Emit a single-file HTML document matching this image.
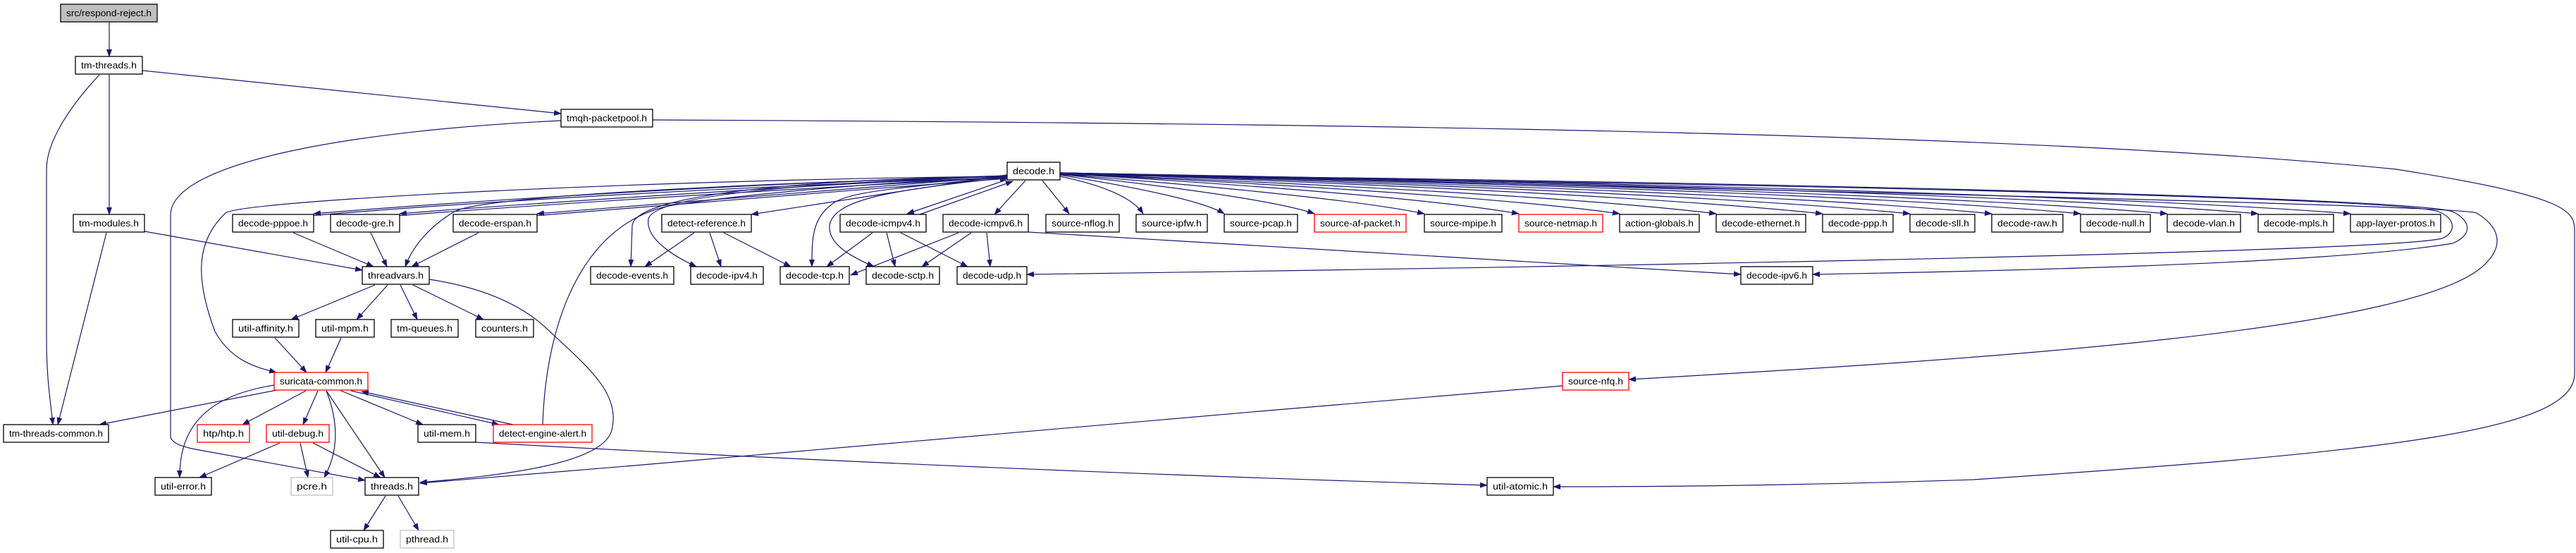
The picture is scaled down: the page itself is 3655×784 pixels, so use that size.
<!DOCTYPE html>
<html><head><meta charset="utf-8"><style>
html,body{margin:0;padding:0;background:#fff;}
svg{display:block;}
text{font-family:"Liberation Sans",Arial,sans-serif;font-size:13px;fill:#000;}
</style></head><body>
<svg width="3655" height="784" viewBox="0 0 3655 784" xmlns="http://www.w3.org/2000/svg">
<defs>
<marker id="a" markerWidth="11" markerHeight="8" refX="10" refY="4" orient="auto" markerUnits="userSpaceOnUse">
<path d="M0,0 L11,4 L0,8 Z" fill="#191970"/>
</marker>
</defs>
<g fill="none" stroke="#191970" stroke-width="1.2" marker-end="url(#a)">
<path d="M155,31 L155,80"/>
<path d="M202,100 L796,161"/>
<path d="M155,105 L155,304"/>
<path d="M141,106 C100,150 66,200 66,240 L66,480 C66,540 72,570 75,602"/>
<path d="M151,330 L82,602"/>
<path d="M205,328 L514,383"/>
<path d="M796,171 C500,185 242,230 242,305 L242,620 C245,628 255,632 272,636 L518,681"/>
<path d="M416,330 L530,378"/>
<path d="M526,330 L549,378"/>
<path d="M679,330 L584,378"/>
<path d="M1429,250 C1000,262 680,280 645,300 C610,320 585,350 575,378"/>
<path d="M532,404 L413,453"/>
<path d="M550,404 L506,453"/>
<path d="M568,404 L592,453"/>
<path d="M586,404 L686,453"/>
<path d="M609,396 C700,410 750,440 780,470 C840,525 880,560 868,610 C855,660 700,675 596,684"/>
<path d="M390,479 L435,528"/>
<path d="M484,479 L462,528"/>
<path d="M1429,250 C900,255 340,285 320,302 C280,340 275,390 305,470 C330,515 370,522 392,528"/>
<path d="M393,553 L141,602"/>
<path d="M389,546 C300,560 254,600 255,677"/>
<path d="M434,554 L344,602"/>
<path d="M451,554 L430,602"/>
<path d="M463,554 C485,610 475,650 460,677"/>
<path d="M463,554 L546,677"/>
<path d="M484,554 L600,602"/>
<path d="M498,554 L708,602"/>
<path d="M728,602 L513,555"/>
<path d="M770,602 C775,450 830,310 960,290 C1100,270 1300,255 1429,252"/>
<path d="M397,628 L283,677"/>
<path d="M426,628 L437,677"/>
<path d="M444,628 L540,677"/>
<path d="M675,627 C1000,645 1500,670 2110,688"/>
<path d="M2217,547 L1800,582 L900,660 L596,685"/>
<path d="M547,703 L516,752"/>
<path d="M565,703 L594,752"/>
<path d="M1504,245 C2500,270 3480,290 3514,302 C3560,330 3540,360 3530,370 C3450,470 2800,510 2311,538"/>
<path d="M926,170 C2000,175 2900,190 3400,240 C3653,280 3653,300 3653,330 L3653,530 C3653,610 3400,640 2800,680 C2500,690 2300,690 2204,690"/>
<path d="M1504,248 C2500,260 3400,280 3460,300 C3485,310 3485,330 3465,338 C3400,355 2500,375 1457,389"/>
<path d="M1504,247 C2500,258 3420,280 3480,300 C3510,315 3505,335 3480,345 C3300,375 2800,385 2572,389"/>
<path d="M1459,329 L2470,389"/>
<path d="M1428,255 L1287,303"/>
<path d="M1305,304 L1437,257"/>
<path d="M1455,256 L1411,304"/>
<path d="M1479,256 L1517,303"/>
<path d="M1428,248 L1066,304"/>
<path d="M985,330 L915,378"/>
<path d="M1007,330 L1023,378"/>
<path d="M1027,330 L1122,378"/>
<path d="M1238,330 L1173,378"/>
<path d="M1258,330 L1270,378"/>
<path d="M1278,330 L1373,378"/>
<path d="M1360,330 L1207,390"/>
<path d="M1378,330 L1308,378"/>
<path d="M1400,330 L1405,378"/>
<path d="M1429,250 C1300,265 1200,270 1180,290 C1152,310 1152,340 1152,378"/>
<path d="M1429,252 C1250,270 1190,285 1178,315 C1170,345 1210,365 1240,378"/>
<path d="M1429,250 C1100,260 930,280 920,310 C915,340 960,365 988,378"/>
<path d="M1429,250 C1100,255 900,280 897,320 L895,378"/>
<path d="M1429,249 C1000,262 600,290 445,303"/>
<path d="M440,306 C600,292 1000,265 1429,252"/>
<path d="M1429,249 C1100,265 700,292 567,303"/>
<path d="M562,306 C700,295 1100,268 1429,252"/>
<path d="M1429,250 C1200,268 900,292 762,303"/>
<path d="M757,306 C900,295 1200,270 1429,253"/>
<path d="M1504,250 Q1600,270 1622,303"/>
<path d="M1504,248 Q1700,280 1737,303"/>
<path d="M1504,247 Q1800,280 1865,303"/>
<path d="M1504,247 Q1900,278 2021,303"/>
<path d="M1504,246 Q2000,276 2155,303"/>
<path d="M1504,246 Q2100,275 2298,303"/>
<path d="M1504,246 Q2200,274 2435,303"/>
<path d="M1504,245 Q2300,273 2586,303"/>
<path d="M1504,245 Q2400,272 2710,303"/>
<path d="M1504,245 Q2500,271 2826,303"/>
<path d="M1504,245 Q2600,270 2952,303"/>
<path d="M1504,245 Q2700,270 3075,303"/>
<path d="M1504,245 Q2800,269 3204,303"/>
<path d="M1504,245 Q2900,269 3335,303"/>
</g>
<g stroke-width="1.3">
<g fill="#fff" stroke="#000">
<rect x="86" y="6" width="137" height="25" fill="#bfbfbf"/>
<rect x="107" y="80" width="95" height="25"/>
<rect x="796" y="155" width="130" height="25"/>
<rect x="1429" y="230" width="75" height="25"/>
<rect x="104" y="304" width="101" height="25"/>
<rect x="330" y="304" width="115" height="25"/>
<rect x="469" y="304" width="98" height="25"/>
<rect x="643" y="304" width="119" height="25"/>
<rect x="939" y="304" width="127" height="25"/>
<rect x="1192" y="304" width="122" height="25"/>
<rect x="1338" y="304" width="121" height="25"/>
<rect x="1484" y="304" width="104" height="25"/>
<rect x="1612" y="304" width="101" height="25"/>
<rect x="1737" y="304" width="104" height="25"/>
<rect x="2021" y="304" width="110" height="25"/>
<rect x="2298" y="304" width="113" height="25"/>
<rect x="2435" y="304" width="127" height="25"/>
<rect x="2586" y="304" width="100" height="25"/>
<rect x="2710" y="304" width="92" height="25"/>
<rect x="2826" y="304" width="101" height="25"/>
<rect x="2952" y="304" width="99" height="25"/>
<rect x="3075" y="304" width="104" height="25"/>
<rect x="3204" y="304" width="107" height="25"/>
<rect x="3335" y="304" width="128" height="25"/>
<rect x="514" y="378" width="95" height="25"/>
<rect x="838" y="378" width="118" height="25"/>
<rect x="980" y="378" width="103" height="25"/>
<rect x="1107" y="378" width="98" height="25"/>
<rect x="1229" y="378" width="104" height="25"/>
<rect x="1358" y="378" width="99" height="25"/>
<rect x="2470" y="378" width="102" height="25"/>
<rect x="330" y="453" width="94" height="25"/>
<rect x="448" y="453" width="83" height="25"/>
<rect x="555" y="453" width="95" height="25"/>
<rect x="675" y="453" width="82" height="25"/>
<rect x="5" y="602" width="149" height="25"/>
<rect x="593" y="602" width="82" height="25"/>
<rect x="220" y="677" width="80" height="25"/>
<rect x="518" y="677" width="76" height="25"/>
<rect x="2110" y="677" width="94" height="25"/>
<rect x="469" y="752" width="75" height="25"/>
</g>
<g fill="#fff" stroke="#ff0000">
<rect x="1865" y="304" width="130" height="25"/>
<rect x="2155" y="304" width="119" height="25"/>
<rect x="389" y="528" width="133" height="25"/>
<rect x="2217" y="528" width="94" height="25"/>
<rect x="280" y="602" width="74" height="25"/>
<rect x="378" y="602" width="89" height="25"/>
<rect x="700" y="602" width="140" height="25"/>
</g>
<g fill="#fff" stroke="#bfbfbf">
<rect x="413" y="677" width="59" height="25"/>
<rect x="568" y="752" width="76" height="25"/>
</g>
</g>
<g text-anchor="middle">
<text x="154.5" y="23" textLength="121" lengthAdjust="spacingAndGlyphs">src/respond-reject.h</text>
<text x="154.5" y="97" textLength="79" lengthAdjust="spacingAndGlyphs">tm-threads.h</text>
<text x="861" y="172" textLength="114" lengthAdjust="spacingAndGlyphs">tmqh-packetpool.h</text>
<text x="1466.5" y="247" textLength="59" lengthAdjust="spacingAndGlyphs">decode.h</text>
<text x="154.5" y="321" textLength="85" lengthAdjust="spacingAndGlyphs">tm-modules.h</text>
<text x="387.5" y="321" textLength="99" lengthAdjust="spacingAndGlyphs">decode-pppoe.h</text>
<text x="518" y="321" textLength="82" lengthAdjust="spacingAndGlyphs">decode-gre.h</text>
<text x="702.5" y="321" textLength="103" lengthAdjust="spacingAndGlyphs">decode-erspan.h</text>
<text x="1002.5" y="321" textLength="111" lengthAdjust="spacingAndGlyphs">detect-reference.h</text>
<text x="1253" y="321" textLength="106" lengthAdjust="spacingAndGlyphs">decode-icmpv4.h</text>
<text x="1398.5" y="321" textLength="105" lengthAdjust="spacingAndGlyphs">decode-icmpv6.h</text>
<text x="1536" y="321" textLength="88" lengthAdjust="spacingAndGlyphs">source-nflog.h</text>
<text x="1662.5" y="321" textLength="85" lengthAdjust="spacingAndGlyphs">source-ipfw.h</text>
<text x="1789" y="321" textLength="88" lengthAdjust="spacingAndGlyphs">source-pcap.h</text>
<text x="1930" y="321" textLength="114" lengthAdjust="spacingAndGlyphs">source-af-packet.h</text>
<text x="2076" y="321" textLength="94" lengthAdjust="spacingAndGlyphs">source-mpipe.h</text>
<text x="2214.5" y="321" textLength="103" lengthAdjust="spacingAndGlyphs">source-netmap.h</text>
<text x="2354.5" y="321" textLength="97" lengthAdjust="spacingAndGlyphs">action-globals.h</text>
<text x="2498.5" y="321" textLength="111" lengthAdjust="spacingAndGlyphs">decode-ethernet.h</text>
<text x="2636" y="321" textLength="84" lengthAdjust="spacingAndGlyphs">decode-ppp.h</text>
<text x="2756" y="321" textLength="76" lengthAdjust="spacingAndGlyphs">decode-sll.h</text>
<text x="2876.5" y="321" textLength="85" lengthAdjust="spacingAndGlyphs">decode-raw.h</text>
<text x="3001.5" y="321" textLength="83" lengthAdjust="spacingAndGlyphs">decode-null.h</text>
<text x="3127" y="321" textLength="88" lengthAdjust="spacingAndGlyphs">decode-vlan.h</text>
<text x="3257.5" y="321" textLength="91" lengthAdjust="spacingAndGlyphs">decode-mpls.h</text>
<text x="3399" y="321" textLength="112" lengthAdjust="spacingAndGlyphs">app-layer-protos.h</text>
<text x="561.5" y="395" textLength="79" lengthAdjust="spacingAndGlyphs">threadvars.h</text>
<text x="897" y="395" textLength="102" lengthAdjust="spacingAndGlyphs">decode-events.h</text>
<text x="1031.5" y="395" textLength="87" lengthAdjust="spacingAndGlyphs">decode-ipv4.h</text>
<text x="1156" y="395" textLength="82" lengthAdjust="spacingAndGlyphs">decode-tcp.h</text>
<text x="1281" y="395" textLength="88" lengthAdjust="spacingAndGlyphs">decode-sctp.h</text>
<text x="1407.5" y="395" textLength="83" lengthAdjust="spacingAndGlyphs">decode-udp.h</text>
<text x="2521" y="395" textLength="86" lengthAdjust="spacingAndGlyphs">decode-ipv6.h</text>
<text x="377" y="470" textLength="78" lengthAdjust="spacingAndGlyphs">util-affinity.h</text>
<text x="489.5" y="470" textLength="67" lengthAdjust="spacingAndGlyphs">util-mpm.h</text>
<text x="602.5" y="470" textLength="79" lengthAdjust="spacingAndGlyphs">tm-queues.h</text>
<text x="716" y="470" textLength="66" lengthAdjust="spacingAndGlyphs">counters.h</text>
<text x="455.5" y="545" textLength="117" lengthAdjust="spacingAndGlyphs">suricata-common.h</text>
<text x="2264" y="545" textLength="78" lengthAdjust="spacingAndGlyphs">source-nfq.h</text>
<text x="79.5" y="619" textLength="133" lengthAdjust="spacingAndGlyphs">tm-threads-common.h</text>
<text x="317" y="619" textLength="58" lengthAdjust="spacingAndGlyphs">htp/htp.h</text>
<text x="422.5" y="619" textLength="73" lengthAdjust="spacingAndGlyphs">util-debug.h</text>
<text x="634" y="619" textLength="66" lengthAdjust="spacingAndGlyphs">util-mem.h</text>
<text x="770" y="619" textLength="124" lengthAdjust="spacingAndGlyphs">detect-engine-alert.h</text>
<text x="260" y="694" textLength="64" lengthAdjust="spacingAndGlyphs">util-error.h</text>
<text x="442.5" y="694" textLength="43" lengthAdjust="spacingAndGlyphs">pcre.h</text>
<text x="556" y="694" textLength="60" lengthAdjust="spacingAndGlyphs">threads.h</text>
<text x="2157" y="694" textLength="78" lengthAdjust="spacingAndGlyphs">util-atomic.h</text>
<text x="506.5" y="769" textLength="59" lengthAdjust="spacingAndGlyphs">util-cpu.h</text>
<text x="606" y="769" textLength="60" lengthAdjust="spacingAndGlyphs">pthread.h</text>
</g>
</svg>
</body></html>
